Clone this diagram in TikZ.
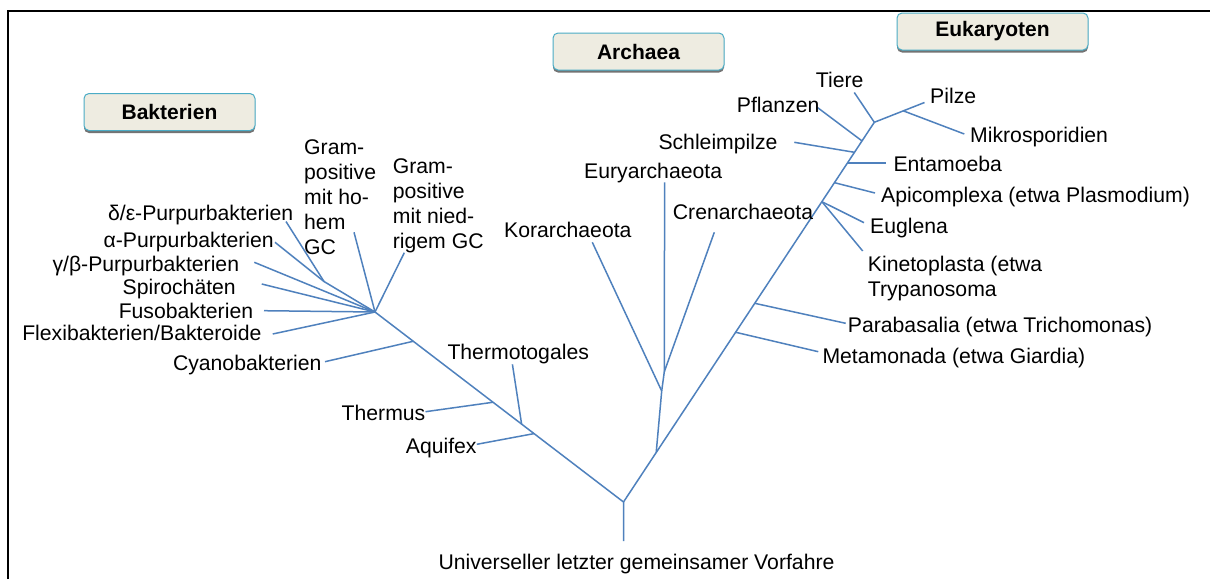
\documentclass[tikz,border=0pt]{standalone}
\usepackage{fontspec}
\setmainfont{Liberation Sans}
\usetikzlibrary{calc,shadows}
\definecolor{treeblue}{RGB}{79,129,189}
\definecolor{hdrfill}{RGB}{238,236,225}
\definecolor{hdrline}{RGB}{75,172,198}
\begin{document}
\begin{tikzpicture}[x=1pt,y=-1pt,
  br/.style={draw=treeblue, line width=1.5pt},
  frame/.style={draw=black, line width=2pt},
  lbl/.style={inner sep=0pt, font=\fontsize{21.2}{25}\selectfont, text height=15pt, text depth=0pt},
  mlbl/.style={inner sep=0pt, font=\fontsize{21.2}{25}\selectfont, align=left, anchor=north west},
  hdr/.style={draw=hdrline, fill=hdrfill, line width=1pt, rounded corners=5pt,
    minimum height=37pt, inner sep=0pt, font=\bfseries\fontsize{21}{24}\selectfont,
    drop shadow={shadow xshift=0pt, shadow yshift=-2.5pt, fill=black!55, opacity=1}}]
\useasboundingbox (0,0) rectangle (1210,579);
\fill[white] (0,0) rectangle (1210,579);
% frame
\coordinate (fTL) at (8,11);
\coordinate (fTR) at (1210,11);
\coordinate (fBL) at (8,579);
\draw[frame] (fBL) -- (fTL) -- (fTR);

% headers
\node[hdr, minimum width=171pt] (bak) at (169.5,112) {Bakterien};
\node[hdr, minimum width=171pt] (arc) at (638.5,51.5) {Archaea};
\node[hdr, minimum width=191pt] (euk) at (992.5,31.5) {Eukaryoten};

% ---- tree skeleton
\coordinate (R0) at (623.5,541);
\coordinate (F) at (623.5,502);
\coordinate (H) at (375,312);
\coordinate (C) at (874.3,122.3);

% bacteria main
\coordinate (Aq) at ($(F)!0.360!(H)$);
\coordinate (Tt) at ($(F)!0.410!(H)$);
\coordinate (Th) at ($(F)!0.525!(H)$);
\coordinate (Cy) at ($(F)!0.846!(H)$);
\coordinate (J1) at (324,281.5);

\coordinate (eAq) at (476.8,444.3);
\coordinate (eTt) at (512.4,364.3);
\coordinate (eTh) at (425.5,411.7);
\coordinate (eCy) at (325,361.7);
\coordinate (eDE) at (286,221.5);
\coordinate (eAl) at (275,242.3);
\coordinate (eGB) at (254.3,262.3);
\coordinate (eSp) at (261.7,284);
\coordinate (eFu) at (264,310.7);
\coordinate (eFl) at (272.7,334);
\coordinate (eGH) at (354,232.3);
\coordinate (eGL) at (404.3,252.7);

\draw[br] (R0) -- (F) -- (H);
\draw[br] (Aq) -- (eAq);
\draw[br] (Tt) -- (eTt);
\draw[br] (Th) -- (eTh);
\draw[br] (Cy) -- (eCy);
\draw[br] (H) -- (J1) -- (eDE);
\draw[br] (J1) -- (eAl);
\draw[br] (H) -- (eGB);
\draw[br] (H) -- (eSp);
\draw[br] (H) -- (eFu);
\draw[br] (H) -- (eFl);
\draw[br] (H) -- (eGH);
\draw[br] (H) -- (eGL);

% archaea
\coordinate (A0) at ($(F)!0.1304!(C)$);
\coordinate (Ko) at (661.7,391);
\coordinate (Cr) at (664.3,371.7);
\coordinate (eEu) at (664.6,182.3);
\coordinate (eKo) at (592.3,242.3);
\coordinate (eCr) at (714.3,232.3);
\draw[br] (A0) -- (Ko) -- (Cr) -- (eEu);
\draw[br] (Ko) -- (eKo);
\draw[br] (Cr) -- (eCr);

% eukaryotes
\draw[br] (F) -- (C);
\coordinate (Me) at ($(F)!0.447!(C)$);
\coordinate (Pa) at ($(F)!0.5233!(C)$);
\coordinate (EK) at ($(F)!0.791!(C)$);
\coordinate (Ap) at ($(F)!0.841!(C)$);
\coordinate (En) at ($(F)!0.8928!(C)$);
\coordinate (Sc) at ($(F)!0.921!(C)$);
\coordinate (Pf) at ($(F)!0.951!(C)$);
\coordinate (ePi) at (924.5,102.5);
\coordinate (Mi) at ($(C)!0.578!(ePi)$);

\coordinate (eMe) at (818.3,351.7);
\coordinate (ePa) at (845.7,323.3);
\coordinate (eEg) at (864,222.7);
\coordinate (eKi) at (862.7,251);
\coordinate (eAp) at (875,193);
\coordinate (eEn) at ($(En)+(39,0)$);
\coordinate (eSc) at (794.3,142.3);
\coordinate (ePf) at (817.7,107.7);
\coordinate (eTi) at (854.3,92.5);
\coordinate (eMi) at (964.3,134);

\draw[br] (Me) -- (eMe);
\draw[br] (Pa) -- (ePa);
\draw[br] (EK) -- (eEg);
\draw[br] (EK) -- (eKi);
\draw[br] (Ap) -- (eAp);
\draw[br] (En) -- (eEn);
\draw[br] (Sc) -- (eSc);
\draw[br] (Pf) -- (ePf);
\draw[br] (C) -- (eTi);
\draw[br] (C) -- (ePi);
\draw[br] (Mi) -- (eMi);

% ---- labels
\node[lbl, anchor=east] (tDE) at (293.3,213.3) {δ/ε-Purpurbakterien};
\node[lbl, anchor=east] (tAl) at (274,240) {α-Purpurbakterien};
\node[lbl, anchor=east] (tGB) at (239.3,264.3) {γ/β-Purpurbakterien};
\node[lbl, anchor=east] (tSp) at (236,287.3) {Spirochäten};
\node[lbl, anchor=east] (tFu) at (253.3,311) {Fusobakterien};
\node[lbl, anchor=east] (tFl) at (261.7,333.3) {Flexibakterien/Bakteroide};
\node[lbl, anchor=east] (tCy) at (321.7,363.3) {Cyanobakterien};
\node[lbl, anchor=east] (tTh) at (425.5,413.3) {Thermus};
\node[lbl, anchor=east] (tAq) at (476.8,445.5) {Aquifex};
\node[lbl, anchor=west] (tTt) at (447.3,352.3) {Thermotogales};
\node[mlbl] (tGH) at (304,139) {Gram-\\positive\\mit ho-\\hem\\GC};
\node[mlbl] (tGL) at (392.7,158) {Gram-\\positive\\mit nied-\\rigem GC};

\node[lbl, anchor=west] (tKo) at (504,230) {Korarchaeota};
\node[lbl, anchor=west] (tEu) at (584,171) {Euryarchaeota};
\node[lbl, anchor=west] (tCr) at (672.7,211.7) {Crenarchaeota};

\node[lbl, anchor=west] (tSc) at (658.3,141.7) {Schleimpilze};
\node[lbl, anchor=west] (tPf) at (736.7,105) {Pflanzen};
\node[lbl, anchor=west] (tTi) at (815.7,80) {Tiere};
\node[lbl, anchor=west] (tPi) at (930,95.7) {Pilze};
\node[lbl, anchor=west] (tMi) at (970,135) {Mikrosporidien};
\node[lbl, anchor=west] (tEn) at (893.3,164) {Entamoeba};
\node[lbl, anchor=west] (tAp) at (881,195) {Apicomplexa (etwa Plasmodium)};
\node[lbl, anchor=west] (tEg) at (870,226) {Euglena};
\node[mlbl] (tKi) at (867.7,255.5) {Kinetoplasta (etwa\\Trypanosoma};
\node[lbl, anchor=west] (tPa) at (847.7,325) {Parabasalia (etwa Trichomonas)};
\node[lbl, anchor=west] (tMe) at (822.3,355.7) {Metamonada (etwa Giardia)};

\node[lbl] (tRoot) at (636.5,561.5) {Universeller letzter gemeinsamer Vorfahre};
\end{tikzpicture}
\end{document}
